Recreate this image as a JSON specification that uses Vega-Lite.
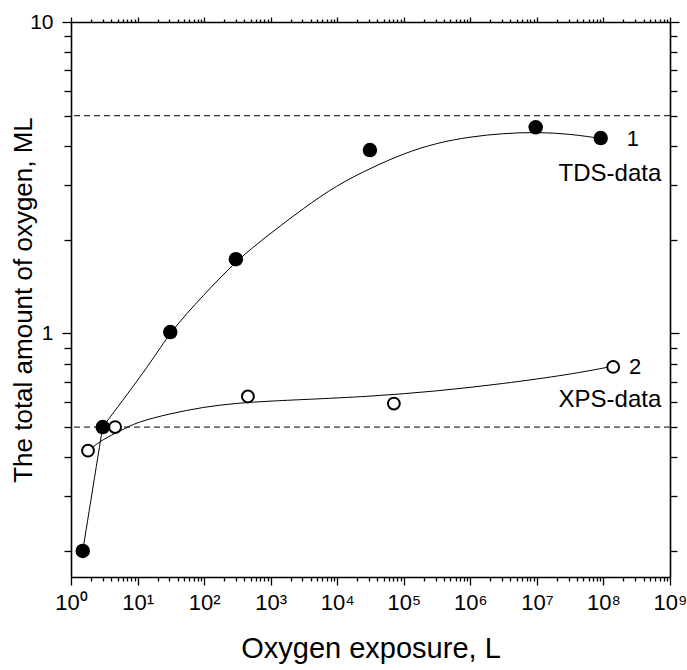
{
  "$schema": "https://vega.github.io/schema/vega-lite/v6.json",
  "width": 599,
  "height": 555,
  "autosize": {"type": "none"},
  "padding": {"left": 71, "top": 22, "right": 17, "bottom": 93},
  "background": "white",
  "config": {
    "view": {"stroke": null},
    "axis": {
      "domainColor": "black", "tickColor": "black", "labelColor": "black", "titleColor": "black",
      "grid": false, "domainWidth": 1.6, "tickWidth": 1.3,
      "labelFont": "Liberation Sans", "titleFont": "Liberation Sans", "titleFontWeight": "normal",
      "labelOverlap": false, "labelBound": false, "labelFlush": false
    }
  },
  "datasets": {
    "pts": [
      {"series": "TDS", "x": 1.5, "y": 0.2},
      {"series": "TDS", "x": 3, "y": 0.5},
      {"series": "TDS", "x": 31, "y": 1.01},
      {"series": "TDS", "x": 300, "y": 1.73},
      {"series": "TDS", "x": 31000, "y": 3.88},
      {"series": "TDS", "x": 9600000, "y": 4.59},
      {"series": "TDS", "x": 91000000, "y": 4.24},
      {"series": "XPS", "x": 1.8, "y": 0.42},
      {"series": "XPS", "x": 4.6, "y": 0.5},
      {"series": "XPS", "x": 455, "y": 0.627},
      {"series": "XPS", "x": 71000, "y": 0.595},
      {"series": "XPS", "x": 140000000, "y": 0.78}
    ],
    "fit": [
      {"series": "TDS", "i": 1, "x": 1.5, "y": 0.2},
      {"series": "TDS", "i": 2, "x": 2.99, "y": 0.5},
      {"series": "TDS", "i": 3, "x": 2.99, "y": 0.5},
      {"series": "TDS", "i": 4, "x": 2.99, "y": 0.5},
      {"series": "TDS", "i": 5, "x": 16.3, "y": 0.81},
      {"series": "TDS", "i": 6, "x": 30.7, "y": 1.01},
      {"series": "TDS", "i": 7, "x": 97.2, "y": 1.325},
      {"series": "TDS", "i": 8, "x": 309, "y": 1.717},
      {"series": "TDS", "i": 9, "x": 977, "y": 2.09},
      {"series": "TDS", "i": 10, "x": 3090, "y": 2.52},
      {"series": "TDS", "i": 11, "x": 9800, "y": 2.99},
      {"series": "TDS", "i": 12, "x": 31000, "y": 3.385},
      {"series": "TDS", "i": 13, "x": 98000, "y": 3.78},
      {"series": "TDS", "i": 14, "x": 312000, "y": 4.09},
      {"series": "TDS", "i": 15, "x": 988000, "y": 4.28},
      {"series": "TDS", "i": 16, "x": 3130000, "y": 4.39},
      {"series": "TDS", "i": 17, "x": 9930000, "y": 4.43},
      {"series": "TDS", "i": 18, "x": 31400000, "y": 4.37},
      {"series": "TDS", "i": 19, "x": 88600000, "y": 4.23},
      {"series": "XPS", "i": 1, "x": 1.82, "y": 0.42},
      {"series": "XPS", "i": 2, "x": 3.06, "y": 0.4585},
      {"series": "XPS", "i": 3, "x": 5.45, "y": 0.485},
      {"series": "XPS", "i": 4, "x": 9.7, "y": 0.519},
      {"series": "XPS", "i": 5, "x": 30.7, "y": 0.552},
      {"series": "XPS", "i": 6, "x": 97, "y": 0.58},
      {"series": "XPS", "i": 7, "x": 309, "y": 0.597},
      {"series": "XPS", "i": 8, "x": 977, "y": 0.606},
      {"series": "XPS", "i": 9, "x": 3090, "y": 0.613},
      {"series": "XPS", "i": 10, "x": 31000, "y": 0.627},
      {"series": "XPS", "i": 11, "x": 312000, "y": 0.652},
      {"series": "XPS", "i": 12, "x": 3130000, "y": 0.689},
      {"series": "XPS", "i": 13, "x": 31400000, "y": 0.738},
      {"series": "XPS", "i": 14, "x": 118000000, "y": 0.779}
    ],
    "refs": [{"v": 5}, {"v": 0.5}],
    "labels": [
      {"x": 278000000, "y": 4.2, "t": "1", "s": 22},
      {"x": 125000000, "y": 3.25, "t": "TDS-data", "s": 24},
      {"x": 300000000, "y": 0.778, "t": "2", "s": 22},
      {"x": 125000000, "y": 0.609, "t": "XPS-data", "s": 24}
    ]
  },
  "resolve": {"axis": {"x": "independent", "y": "independent"}},
  "layer": [
    {
      "data": {"name": "refs"},
      "mark": {"type": "rule", "strokeDash": [6, 4], "stroke": "black", "strokeWidth": 1},
      "encoding": {
        "y": {"field": "v", "type": "quantitative", "scale": {"type": "log", "domain": [0.165, 10], "nice": false}, "axis": null}
      }
    },
    {
      "data": {"name": "fit"},
      "mark": {"type": "line", "interpolate": "basis", "stroke": "black", "strokeWidth": 1},
      "encoding": {
        "x": {
          "field": "x", "type": "quantitative",
          "scale": {"type": "log", "domain": [1, 1000000000], "nice": false},
          "axis": {
            "orient": "bottom", "title": "Oxygen exposure, L", "titleFontSize": 29, "titlePadding": 21,
            "labelFontSize": 22, "labelPadding": 7,
            "values": [1,2,3,4,5,6,7,8,9,10,20,30,40,50,60,70,80,90,100,200,300,400,500,600,700,800,900,1000,2000,3000,4000,5000,6000,7000,8000,9000,10000,20000,30000,40000,50000,60000,70000,80000,90000,100000,200000,300000,400000,500000,600000,700000,800000,900000,1000000,2000000,3000000,4000000,5000000,6000000,7000000,8000000,9000000,10000000,20000000,30000000,40000000,50000000,60000000,70000000,80000000,90000000,100000000,200000000,300000000,400000000,500000000,600000000,700000000,800000000,900000000,1000000000],
            "tickSize": {"condition": {"test": "abs(log(datum.value)/LN10 - round(log(datum.value)/LN10)) < 1e-6", "value": 8}, "value": 4},
            "labelExpr": "abs(log(datum.value)/LN10 - round(log(datum.value)/LN10)) < 1e-6 ? '10' + ['⁰','¹','²','³','⁴','⁵','⁶','⁷','⁸','⁹'][round(log(datum.value)/LN10)] : ''"
          }
        },
        "y": {
          "field": "y", "type": "quantitative",
          "scale": {"type": "log", "domain": [0.165, 10], "nice": false},
          "axis": {
            "orient": "left", "title": "The total amount of oxygen, ML", "titleFontSize": 26, "titlePadding": -7,
            "labelFontSize": 21, "labelPadding": 9,
            "values": [0.2,0.3,0.4,0.5,0.6,0.7,0.8,0.9,1,2,3,4,5,6,7,8,9,10],
            "tickSize": {"condition": {"test": "datum.value == 1 || datum.value == 10", "value": 9}, "value": 7},
            "labelExpr": "datum.value == 1 || datum.value == 10 ? datum.label : ''"
          }
        },
        "detail": {"field": "series"},
        "order": {"field": "i", "type": "quantitative"}
      }
    },
    {
      "data": {"name": "pts"},
      "transform": [{"filter": "datum.series == 'TDS'"}],
      "mark": {"type": "point", "shape": "circle", "filled": true, "fill": "black", "stroke": "black", "strokeWidth": 0, "size": 210, "opacity": 1},
      "encoding": {
        "x": {
          "field": "x", "type": "quantitative",
          "axis": {
            "orient": "top", "title": null, "labels": false,
            "values": [1,2,3,4,5,6,7,8,9,10,20,30,40,50,60,70,80,90,100,200,300,400,500,600,700,800,900,1000,2000,3000,4000,5000,6000,7000,8000,9000,10000,20000,30000,40000,50000,60000,70000,80000,90000,100000,200000,300000,400000,500000,600000,700000,800000,900000,1000000,2000000,3000000,4000000,5000000,6000000,7000000,8000000,9000000,10000000,20000000,30000000,40000000,50000000,60000000,70000000,80000000,90000000,100000000,200000000,300000000,400000000,500000000,600000000,700000000,800000000,900000000,1000000000],
            "tickSize": {"condition": {"test": "abs(log(datum.value)/LN10 - round(log(datum.value)/LN10)) < 1e-6", "value": 5}, "value": 3}
          }
        },
        "y": {
          "field": "y", "type": "quantitative",
          "axis": {
            "orient": "right", "title": null, "labels": false,
            "values": [0.2,0.3,0.4,0.5,0.6,0.7,0.8,0.9,1,2,3,4,5,6,7,8,9,10],
            "tickSize": {"condition": {"test": "datum.value == 1 || datum.value == 10", "value": 9}, "value": 7}
          }
        }
      }
    },
    {
      "data": {"name": "pts"},
      "transform": [{"filter": "datum.series == 'XPS'"}],
      "mark": {"type": "point", "shape": "circle", "filled": false, "fill": "white", "fillOpacity": 1, "stroke": "black", "strokeWidth": 2, "size": 140, "opacity": 1},
      "encoding": {
        "x": {"field": "x", "type": "quantitative", "axis": null},
        "y": {"field": "y", "type": "quantitative", "axis": null}
      }
    },
    {
      "data": {"name": "labels"},
      "mark": {"type": "text", "font": "Liberation Sans", "align": "center", "baseline": "middle", "color": "black"},
      "encoding": {
        "x": {"field": "x", "type": "quantitative", "axis": null},
        "y": {"field": "y", "type": "quantitative", "axis": null},
        "text": {"field": "t"},
        "size": {"field": "s", "type": "quantitative", "scale": null, "legend": null}
      }
    }
  ]
}
